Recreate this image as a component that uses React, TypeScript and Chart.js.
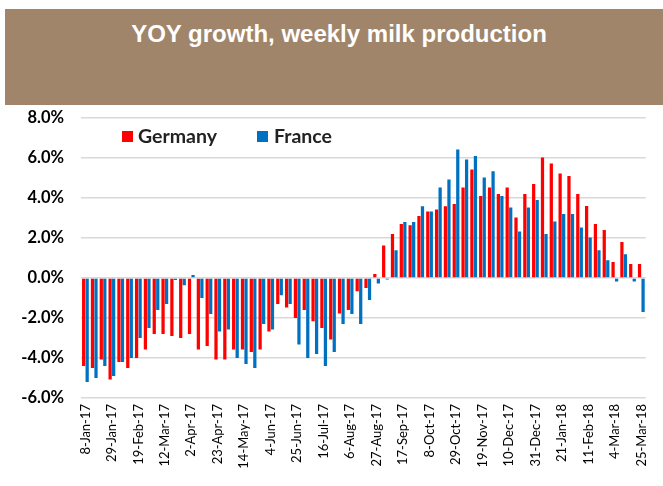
import React, { useEffect, useRef } from "react";
import { Chart, registerables } from "chart.js";

Chart.register(...registerables);

const weeks: string[] = [
  "8-Jan-17", "15-Jan-17", "22-Jan-17", "29-Jan-17", "5-Feb-17", "12-Feb-17", "19-Feb-17", "26-Feb-17",
  "5-Mar-17", "12-Mar-17", "19-Mar-17", "26-Mar-17", "2-Apr-17", "9-Apr-17", "16-Apr-17", "23-Apr-17",
  "30-Apr-17", "7-May-17", "14-May-17", "21-May-17", "28-May-17", "4-Jun-17", "11-Jun-17", "18-Jun-17",
  "25-Jun-17", "2-Jul-17", "9-Jul-17", "16-Jul-17", "23-Jul-17", "30-Jul-17", "6-Aug-17", "13-Aug-17",
  "20-Aug-17", "27-Aug-17", "3-Sep-17", "10-Sep-17", "17-Sep-17", "24-Sep-17", "1-Oct-17", "8-Oct-17",
  "15-Oct-17", "22-Oct-17", "29-Oct-17", "5-Nov-17", "12-Nov-17", "19-Nov-17", "26-Nov-17", "3-Dec-17",
  "10-Dec-17", "17-Dec-17", "24-Dec-17", "31-Dec-17", "7-Jan-18", "14-Jan-18", "21-Jan-18", "28-Jan-18",
  "4-Feb-18", "11-Feb-18", "18-Feb-18", "25-Feb-18", "4-Mar-18", "11-Mar-18", "18-Mar-18", "25-Mar-18",
];

const germany: number[] = [
  -4.4, -4.5, -4.07, -5.08, -4.2, -4.5, -4.0, -3.57, -2.8, -2.8,
  -2.9, -3.0, -2.8, -3.57, -3.4, -4.07, -4.07, -3.57, -3.57, -3.7,
  -3.57, -2.67, -1.3, -1.48, -2.0, -1.6, -2.17, -2.5, -3.07, -1.78,
  -1.6, -0.67, -0.5, 0.2, 1.62, 2.2, 2.7, 2.63, 3.1, 3.32,
  3.42, 3.58, 3.7, 4.52, 5.42, 4.1, 4.52, 4.2, 4.52, 3.02,
  4.2, 4.7, 6.02, 5.72, 5.22, 5.1, 4.2, 3.6, 2.7, 2.4,
  0.8, 1.8, 0.7, 0.7,
];

const france: number[] = [
  -5.2, -5.0, -4.4, -4.9, -4.2, -4.0, -3.0, -2.5, -1.6, -1.3,
  -0.1, -0.37, 0.15, -1.0, -1.8, -2.67, -2.57, -4.0, -4.3, -4.5,
  -2.3, -2.57, -0.87, -1.3, -3.33, -4.0, -3.8, -4.4, -3.7, -2.3,
  -1.8, -2.3, -1.1, -0.28, -0.08, 1.38, 2.8, 2.8, 3.58, 3.32,
  4.52, 4.92, 6.42, 5.92, 6.1, 5.02, 5.33, 4.1, 3.52, 2.32,
  3.52, 3.9, 2.2, 2.82, 3.2, 3.2, 2.52, 2.02, 1.38, 0.88,
  -0.18, 1.18, -0.18, -1.7,
];

const seriesNames = ["Germany", "France"];
const seriesColors = ["#FF0000", "#0070C0"];
const titleText = "YOY growth, weekly milk production";

export default function App() {
  const canvasRef = useRef<HTMLCanvasElement | null>(null);

  useEffect(() => {
    if (!canvasRef.current) return;
    const chart = new Chart(canvasRef.current, {
      type: "bar",
      data: {
        labels: weeks,
        datasets: [
          {
            label: seriesNames[0],
            data: germany,
            backgroundColor: seriesColors[0],
            categoryPercentage: 0.8,
            barPercentage: 0.92,
          },
          {
            label: seriesNames[1],
            data: france,
            backgroundColor: seriesColors[1],
            categoryPercentage: 0.8,
            barPercentage: 0.92,
          },
        ],
      },
      options: {
        responsive: false,
        animation: false,
        layout: { padding: { top: 12, right: 11, left: 0, bottom: 0 } },
        plugins: {
          legend: { display: false },
          title: { display: false },
          tooltip: { enabled: false },
        },
        scales: {
          x: {
            grid: { display: false, drawTicks: false },
            border: { display: false },
            afterFit: (scale: any) => {
              scale.height = 88;
            },
            ticks: {
              autoSkip: false,
              minRotation: 90,
              maxRotation: 90,
              padding: 6,
              color: "#000000",
              font: { family: "Lato", size: 13 },
              callback: function (this: any, _v: any, index: number) {
                return index % 3 === 0 ? weeks[index] : "";
              },
            },
          },
          y: {
            min: -6,
            max: 8,
            border: { display: false },
            grid: { color: "#D9D9D9", lineWidth: 1.5, drawTicks: false },
            afterFit: (scale: any) => {
              scale.width = 81;
            },
            ticks: {
              stepSize: 2,
              padding: 17,
              color: "#000000",
              font: { family: "Lato", size: 16.5, weight: "bold" },
              callback: (v: any) => Number(v).toFixed(1) + "%",
            },
          },
        },
      },
    });
    return () => chart.destroy();
  }, []);

  const legendItem = (i: number, sqLeft: number, textLeft: number) => (
    <React.Fragment key={i}>
      <div
        style={{
          position: "absolute",
          left: sqLeft,
          top: 131,
          width: 11,
          height: 11,
          background: seriesColors[i],
        }}
      />
      <div
        style={{
          position: "absolute",
          left: textLeft,
          top: 125,
          lineHeight: "22px",
          fontFamily: "Lato, sans-serif",
          fontWeight: "bold",
          fontSize: 19.5,
          color: "#222222",
          whiteSpace: "nowrap",
        }}
      >
        {seriesNames[i]}
      </div>
    </React.Fragment>
  );

  return (
    <div style={{ position: "absolute", left: 0, top: 0, width: 663, height: 486, background: "#ffffff", overflow: "hidden" }}>
      <div
        style={{
          position: "absolute",
          left: 5,
          top: 9,
          width: 658,
          height: 96,
          background: "#A0856A",
        }}
      />
      <canvas
        ref={canvasRef}
        width={663}
        height={395}
        style={{ position: "absolute", left: 0, top: 91, width: 663, height: 395 }}
      />
      <div
        style={{
          position: "absolute",
          left: 5,
          top: 20,
          width: 668,
          textAlign: "center",
          color: "#ffffff",
          fontFamily: "'Liberation Sans', Arial, sans-serif",
          fontWeight: "bold",
          fontSize: 24,
          lineHeight: "28px",
          whiteSpace: "nowrap",
        }}
      >
        {titleText}
      </div>
      {legendItem(0, 122, 138)}
      {legendItem(1, 257, 274)}
    </div>
  );
}
